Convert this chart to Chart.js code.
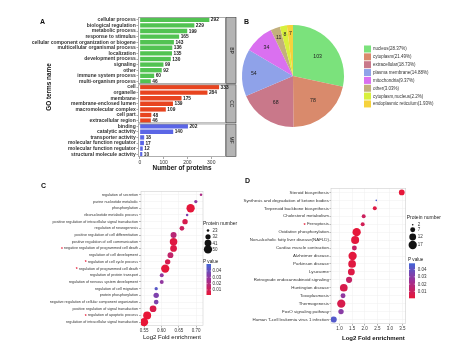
<!DOCTYPE html>
<html><head><meta charset="utf-8">
<script src="https://cdn.jsdelivr.net/npm/chart.js@4/dist/chart.umd.min.js"></script>
<style>
html,body{margin:0;padding:0;background:#fff;width:474px;height:351px;overflow:hidden;position:relative}
canvas{position:absolute}
</style></head><body>
<canvas id="cA" width="240" height="175" style="left:0;top:0"></canvas>
<canvas id="cB" width="234" height="175" style="left:240px;top:0"></canvas>
<canvas id="cC" width="240" height="176" style="left:0;top:175px"></canvas>
<canvas id="cD" width="234" height="176" style="left:240px;top:175px"></canvas>
<script>
// ================= DATA =================
// Panel A: GO classification
const bpTermsA = ["cellular process","biological regulation","metabolic process","response to stimulus","cellular component organization or biogene","multicellular organismal process","localization","development process","signaling","other","immune system process","multi-organism process"];
const bpCountsA = [292,229,199,165,143,136,135,130,99,92,60,46];
const ccTermsA = ["cell","organelle","membrane","membrane-enclosed lumen","macromolecular complex","cell part","extracellular region"];
const ccCountsA = [333,284,175,139,109,48,46];
const mfTermsA = ["binding","catalytic activity","transporter activity","molecular function regulator","molecular function regulator","structural molecule activity"];
const mfCountsA = [202,140,18,17,12,10];
const ontologyNames = ["BP","CC","MF"];
const xTicksA = [0,100,200,300];
const xTitleA = "Number of proteins";
const yTitleA = "GO terms name";

// Panel B: subcellular localization
const locNames = ["nucleus","cytoplasm","extracellular","plasma membrane","mitochondria","other","cytoplasm,nucleus","endoplasmic reticulum"];
const locCounts = [103,78,68,54,34,11,8,7];

// Panel C: GO BP enrichment
const enrTermsC = ["regulation of secretion","purine nucleotide metabolic","phosphorylation","ribonucleotide metabolic process","positive regulation of intracellular signal transduction","regulation of neurogenesis","positive regulation of cell differentiation","positive regulation of cell communication","negative regulation of programmed cell death","regulation of cell development","regulation of cell cycle process","regulation of programmed cell death","regulation of protein transport","regulation of nervous system development","regulation of cell migration","protein phosphorylation","negative regulation of cellular component organization","positive regulation of signal transduction","regulation of apoptotic process","regulation of intracellular signal transduction"];
const enrFoldC = [0.714,0.699,0.684,0.674,0.668,0.659,0.635,0.635,0.635,0.626,0.618,0.611,0.601,0.601,0.585,0.585,0.585,0.576,0.559,0.550];
const enrCountC = [23,25,50,23,33,30,36,45,40,35,33,50,27,27,25,33,30,40,48,50];
const enrPvalC = [0.022,0.030,0.003,0.035,0.008,0.012,0.018,0.005,0.006,0.015,0.008,0.003,0.030,0.030,0.045,0.035,0.035,0.007,0.002,0.002];
const starredC = ["negative regulation of programmed cell death","regulation of cell cycle process","regulation of programmed cell death","regulation of apoptotic process"];
const xTicksC = [0.55,0.60,0.65,0.70];
const sizeBreaksC = [23,32,41,50];
const pBreaks = [0.04,0.03,0.02,0.01];

// Panel D: KEGG enrichment
const enrTermsD = ["Steroid biosynthesis","Synthesis and degradation of ketone bodies","Terpenoid backbone biosynthesis","Cholesterol metabolism","Ferroptosis","Oxidative phosphorylation","Non-alcoholic fatty liver disease(NAFLD)","Cardiac muscle contraction","Alzheimer disease","Parkinson disease","Lysosome","Retrograde endocannabinoid signaling","Huntington disease","Toxoplasmosis","Thermogenesis","FoxO signaling pathway","Human T-cell leukemia virus 1 infection"];
const enrFoldD = [3.47,2.46,2.40,1.96,1.92,1.68,1.62,1.59,1.52,1.50,1.47,1.38,1.17,1.14,1.07,1.06,0.77];
const enrCountD = [9,2,5,5,5,17,16,7,17,15,12,10,15,7,17,8,10];
const enrPvalD = [0.001,0.046,0.004,0.010,0.008,0.001,0.002,0.012,0.002,0.003,0.004,0.012,0.006,0.028,0.006,0.030,0.044];
const starredD = ["Ferroptosis"];
const xTicksD = [1.0,1.5,2.0,2.5,3.0,3.5];
const sizeBreaksD = [2,7,12,17];

// ================= STYLE =================
const FONT = "'Liberation Sans', Arial, Helvetica, sans-serif";
const GROUP_COLORS = ["#52c352","#e8441f","#5b66e6"];
const LOC_COLORS = ["#7be27c","#d98a6c","#c9788a","#8fa2e9","#da70f0","#c3b07c","#d8f03c","#f6d23c"];
const TXT = "#333333";
function f(size, bold){ return (bold?"bold ":"") + size + "px " + FONT; }

function pColor(p, lo, hi){
  const t = Math.min(1, Math.max(0, (p-lo)/(hi-lo)));
  const stops = [[232,22,55],[158,48,150],[65,100,215]];
  let a,b,u;
  if (t < 0.5){a=stops[0];b=stops[1];u=t/0.5;} else {a=stops[1];b=stops[2];u=(t-0.5)/0.5;}
  return "rgb(" + a.map((c,k)=>Math.round(c+(b[k]-c)*u)).join(",") + ")";
}
function sizeR(n, nlo, nhi, rlo, rhi){
  const t = Math.max(0, Math.min(1, (n-nlo)/(nhi-nlo)));
  return Math.sqrt(rlo*rlo + (rhi*rhi - rlo*rlo)*t);
}

// ================= PANEL A =================
const labelsA = [...bpTermsA, ...ccTermsA, ...mfTermsA];
const countsA = [...bpCountsA, ...ccCountsA, ...mfCountsA];
const groupSizesA = [bpTermsA.length, ccTermsA.length, mfTermsA.length];
const groupOfA = [];
groupSizesA.forEach((n,g)=>{ for(let i=0;i<n;i++) groupOfA.push(g); });

const panelAPlugin = {
  id: 'panelA',
  afterDatasetsDraw(chart){
    const {ctx, chartArea: ca, scales: {y}} = chart;
    const step = y.getPixelForValue(1) - y.getPixelForValue(0);
    let start = 0;
    ctx.save();
    groupSizesA.forEach((n, g) => {
      const top = y.getPixelForValue(start) - step/2;
      const bot = y.getPixelForValue(start + n - 1) + step/2;
      ctx.lineWidth = 0.8;
      ctx.strokeStyle = '#9a9a9a';
      ctx.strokeRect(ca.left + 0.4, top + 0.6, ca.right - ca.left - 0.8, bot - top - 1.2);
      ctx.fillStyle = '#b4b4b4';
      ctx.fillRect(ca.right, top + 0.6, 10, bot - top - 1.2);
      ctx.strokeStyle = '#3a3a3a';
      ctx.lineWidth = 0.6;
      ctx.strokeRect(ca.right, top + 0.6, 10, bot - top - 1.2);
      ctx.save();
      ctx.translate(ca.right + 5, (top + bot) / 2);
      ctx.rotate(Math.PI / 2);
      ctx.fillStyle = '#1a1a1a';
      ctx.font = f(5);
      ctx.textAlign = 'center';
      ctx.textBaseline = 'middle';
      ctx.fillText(ontologyNames[g], 0, 0);
      ctx.restore();
      start += n;
    });
    const meta = chart.getDatasetMeta(0);
    ctx.fillStyle = '#222';
    ctx.font = f(4.8, true);
    ctx.textAlign = 'left';
    ctx.textBaseline = 'middle';
    meta.data.forEach((bar, i) => ctx.fillText(String(countsA[i]), bar.x + 1.5, bar.y + 0.3));
    // titles
    ctx.fillStyle = '#111';
    ctx.font = f(7, true);
    ctx.fillText("A", 40, 22);
    ctx.font = f(6.4, true);
    ctx.textAlign = 'center';
    ctx.fillText(xTitleA, 182, 168.5);
    ctx.save();
    ctx.translate(49, 87);
    ctx.rotate(-Math.PI/2);
    ctx.fillText(yTitleA, 0, 0);
    ctx.restore();
    ctx.restore();
  }
};

new Chart(document.getElementById('cA'), {
  type: 'bar',
  data: { labels: labelsA, datasets: [{ data: countsA, backgroundColor: groupOfA.map(g=>GROUP_COLORS[g]), barPercentage: 0.78, categoryPercentage: 1, borderWidth: 0 }] },
  options: {
    indexAxis: 'y', responsive: false, animation: false, devicePixelRatio: 1,
    layout: { padding: { left: 0, right: 14, top: 17, bottom: 2 } },
    plugins: { legend: { display: false }, tooltip: { enabled: false } },
    scales: {
      y: { type: 'category', offset: true,
           grid: { drawOnChartArea: false, offset: false, tickLength: 1.5, color: '#555', tickColor: '#555', lineWidth: 0.5 },
           border: { display: false },
           ticks: { font: { family: FONT, size: 5, weight: 'bold' }, color: TXT, padding: 0.8, autoSkip: false },
           afterFit(s){ s.width = 138; } },
      x: { min: -8, max: 362,
           grid: { drawOnChartArea: false, tickLength: 2, color: '#555', tickColor: '#555', lineWidth: 0.5 },
           border: { display: false },
           ticks: { font: { family: FONT, size: 5 }, color: TXT, padding: 1, maxRotation: 0 },
           afterBuildTicks(s){ s.ticks = xTicksA.map(v=>({value:v})); },
           afterFit(s){ s.height = 16; } }
    }
  },
  plugins: [panelAPlugin]
});

// ================= PANEL B =================
const totalB = locCounts.reduce((a,b)=>a+b, 0);
const pieBPlugin = {
  id: 'pieB',
  afterDatasetsDraw(chart){
    const ctx = chart.ctx;
    const meta = chart.getDatasetMeta(0);
    ctx.save();
    ctx.fillStyle = '#222';
    ctx.font = f(5.2);
    ctx.textAlign = 'center';
    ctx.textBaseline = 'middle';
    meta.data.forEach((arc, i) => {
      const share = locCounts[i] / totalB;
      const fr = share > 0.15 ? 0.62 : (share > 0.05 ? 0.77 : 0.9 - share*3);
      const mid = (arc.startAngle + arc.endAngle) / 2;
      ctx.fillText(String(locCounts[i]), arc.x + Math.cos(mid)*arc.outerRadius*fr, arc.y + Math.sin(mid)*arc.outerRadius*fr);
    });
    // legend
    ctx.textAlign = 'left';
    ctx.font = f(4.5);
    locNames.forEach((name, i) => {
      const cy = 49 + i * 7.85;
      ctx.fillStyle = LOC_COLORS[i];
      ctx.fillRect(124, cy - 3.5, 7, 7);
      ctx.fillStyle = TXT;
      const pct = Number((locCounts[i] / totalB * 100).toFixed(2)).toString();
      ctx.fillText(name + "(" + pct + "%)", 133, cy + 0.2);
    });
    ctx.fillStyle = '#111';
    ctx.font = f(7, true);
    ctx.fillText("B", 4, 22);
    ctx.restore();
  }
};
new Chart(document.getElementById('cB'), {
  type: 'pie',
  data: { labels: locNames, datasets: [{ data: locCounts, backgroundColor: LOC_COLORS, borderWidth: 0 }] },
  options: {
    responsive: false, animation: false, devicePixelRatio: 1,
    layout: { padding: { left: 2, top: 25, right: 130, bottom: 48 } },
    plugins: { legend: { display: false }, tooltip: { enabled: false } }
  },
  plugins: [pieBPlugin]
});

// ================= PANELS C & D (bubble dot plots) =================
function dotPlot(canvasId, cfg){
  const pts = cfg.terms.map((t,i)=>({ x: cfg.fold[i], y: t, n: cfg.count[i], p: cfg.pval[i] }));
  const plugin = {
    id: 'dot_' + canvasId,
    beforeDatasetsDraw(chart){
      const {ctx, chartArea: ca} = chart;
      ctx.save();
      ctx.strokeStyle = '#cfcfcf';
      ctx.lineWidth = 0.6;
      ctx.strokeRect(ca.left, ca.top, ca.right - ca.left, ca.bottom - ca.top);
      ctx.restore();
    },
    afterDatasetsDraw(chart){
      const {ctx, chartArea: ca, scales: {y}} = chart;
      ctx.save();
      // stars
      ctx.font = f(cfg.yFont);
      ctx.textBaseline = 'middle';
      ctx.textAlign = 'right';
      cfg.terms.forEach((t, i) => {
        if (cfg.starred.indexOf(t) < 0) return;
        ctx.font = f(cfg.yFont);
        const w = ctx.measureText(t).width;
        const xr = ca.left - cfg.tickLen - cfg.tickPad;
        ctx.fillStyle = '#e8203a';
        ctx.font = f(cfg.yFont + 1.2, true);
        ctx.fillText("*", xr - w - 1.2, y.getPixelForValue(i) + 1);
      });
      // size legend
      const L = cfg.legend;
      ctx.textAlign = 'left';
      ctx.fillStyle = '#222';
      ctx.font = f(5);
      ctx.fillText("Protein number", L.x, L.titleY);
      ctx.font = f(4.5);
      cfg.sizeBreaks.forEach((b, i) => {
        const cy = L.itemY[i];
        ctx.fillStyle = '#111';
        ctx.beginPath();
        ctx.arc(L.circX, cy, cfg.size(b), 0, Math.PI*2);
        ctx.fill();
        ctx.fillStyle = TXT;
        ctx.fillText(String(b), L.labX, cy + 0.2);
      });
      // color bar
      ctx.fillStyle = '#222';
      ctx.font = f(4.6);
      ctx.fillText("P value", L.pTitleX, L.pTitleY);
      const B = L.bar;
      const grad = ctx.createLinearGradient(0, B.y0, 0, B.y1);
      for (let k = 0; k <= 10; k++) {
        const p = cfg.pRange[1] - (cfg.pRange[1] - cfg.pRange[0]) * k / 10;
        grad.addColorStop(k/10, pColor(p, cfg.pRange[0], cfg.pRange[1]));
      }
      ctx.fillStyle = grad;
      ctx.fillRect(B.x0, B.y0, B.x1 - B.x0, B.y1 - B.y0);
      ctx.fillStyle = TXT;
      ctx.font = f(4.5);
      pBreaks.forEach(pb => {
        const yy = B.y1 - (pb - cfg.pRange[0]) / (cfg.pRange[1] - cfg.pRange[0]) * (B.y1 - B.y0);
        ctx.strokeStyle = '#fff';
        ctx.lineWidth = 0.5;
        ctx.beginPath(); ctx.moveTo(B.x0, yy); ctx.lineTo(B.x0 + 1.2, yy); ctx.moveTo(B.x1 - 1.2, yy); ctx.lineTo(B.x1, yy); ctx.stroke();
        ctx.fillText(pb.toFixed(2), L.labX, yy + 0.2);
      });
      // titles
      ctx.fillStyle = '#111';
      ctx.textAlign = 'center';
      ctx.font = f(cfg.xTitleFont, cfg.xTitleBold);
      ctx.fillText("Log2 Fold enrichment", cfg.xTitlePos[0], cfg.xTitlePos[1]);
      ctx.textAlign = 'left';
      ctx.font = f(7, true);
      ctx.fillText(cfg.letter, cfg.letterPos[0], cfg.letterPos[1]);
      ctx.restore();
    }
  };
  new Chart(document.getElementById(canvasId), {
    type: 'scatter',
    data: { labels: cfg.terms, datasets: [{
      data: pts,
      pointRadius: ctx => cfg.size(ctx.raw.n),
      pointHoverRadius: ctx => cfg.size(ctx.raw.n),
      pointBackgroundColor: ctx => pColor(ctx.raw.p, cfg.pRange[0], cfg.pRange[1]),
      pointBorderWidth: 0
    }] },
    options: {
      responsive: false, animation: false, devicePixelRatio: 1,
      layout: { padding: cfg.padding },
      plugins: { legend: { display: false }, tooltip: { enabled: false } },
      scales: {
        y: { type: 'category', labels: cfg.terms, offset: true,
             grid: { color: '#eeeeee', lineWidth: 0.5, tickLength: cfg.tickLen, tickColor: '#666', offset: false },
             border: { display: false },
             ticks: { font: { family: FONT, size: cfg.yFont }, color: TXT, padding: cfg.tickPad, autoSkip: false },
             afterFit(s){ s.width = cfg.yWidth; } },
        x: { type: 'linear', min: cfg.xRange[0], max: cfg.xRange[1],
             grid: { color: '#eeeeee', lineWidth: 0.5, tickLength: 2, tickColor: '#666' },
             border: { display: false },
             ticks: { font: { family: FONT, size: 4.5 }, color: TXT, padding: 1, maxRotation: 0, callback: v => v.toFixed(cfg.xDec) },
             afterBuildTicks(s){ s.ticks = cfg.xTicks.map(v=>({value:v})); },
             afterFit(s){ s.height = 10; } }
      }
    },
    plugins: [plugin]
  });
}

dotPlot('cC', {
  terms: enrTermsC, fold: enrFoldC, count: enrCountC, pval: enrPvalC, starred: starredC,
  xTicks: xTicksC, xDec: 2, xRange: [0.5413, 0.7197], sizeBreaks: sizeBreaksC,
  size: n => sizeR(n, 22, 51, 1.0, 4.2), pRange: [0.002, 0.051],
  yFont: 3.7, tickLen: 2, tickPad: 1, yWidth: 141,
  padding: { left: 0, top: 16.5, right: 37, bottom: 15.5 },
  legend: { x: 203, titleY: 49, circX: 208, labX: 212.5, itemY: [55.5, 61.8, 68.1, 74.4],
            pTitleX: 203, pTitleY: 87, bar: { x0: 206.5, x1: 211, y0: 89, y1: 120 } },
  xTitleFont: 6, xTitleBold: false, xTitlePos: [172, 162.5], letter: "C", letterPos: [41, 11]
});

dotPlot('cD', {
  terms: enrTermsD, fold: enrFoldD, count: enrCountD, pval: enrPvalD, starred: starredD,
  xTicks: xTicksD, xDec: 1, xRange: [0.6627, 3.627], sizeBreaks: sizeBreaksD,
  size: n => sizeR(n, 2, 17.5, 0.8, 4.2), pRange: [0.0005, 0.0486],
  yFont: 4.4, tickLen: 1.5, tickPad: 0.6, yWidth: 91,
  padding: { left: 0, top: 13.5, right: 68.3, bottom: 17.5 },
  legend: { x: 166.7, titleY: 42.5, circX: 172.7, labX: 177.7, itemY: [49.7, 54.7, 62, 70],
            pTitleX: 168, pTitleY: 85, bar: { x0: 169, x1: 175, y0: 88.3, y1: 123.3 } },
  xTitleFont: 6, xTitleBold: true, xTitlePos: [133.3, 163.5], letter: "D", letterPos: [5, 6.5]
});
</script>
</body></html>
